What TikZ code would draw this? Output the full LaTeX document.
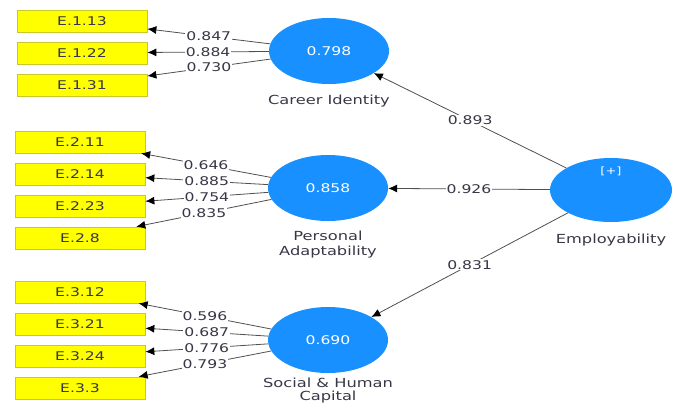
\documentclass[tikz,border=0pt]{standalone}
\usepackage{fontspec}
\setmainfont[FakeStretch=1.3]{DejaVu Sans}
\usetikzlibrary{shapes.geometric,arrows.meta}
\definecolor{latent}{RGB}{24,144,255}
\definecolor{indfill}{RGB}{255,255,0}
\definecolor{indline}{RGB}{200,200,40}
\definecolor{pathline}{RGB}{80,80,80}
\definecolor{txt}{RGB}{55,55,70}
\begin{document}
\begin{tikzpicture}[x=1pt,y=-1pt,
  indicator/.style={rectangle,draw=indline,fill=indfill,line width=0.7pt,
    minimum width=130pt,minimum height=22pt,inner sep=0pt,
    font=\fontsize{12}{13}\selectfont,text=txt},
  construct/.style={ellipse,fill=latent,minimum width=120pt,minimum height=66pt,
    inner sep=0pt,text=white,font=\fontsize{12}{13}\selectfont},
  cname/.style={font=\fontsize{12.5}{15}\selectfont,text=txt,align=center,inner sep=0pt},
  conn/.style={draw=pathline,line width=0.8pt,
    -{Latex[length=9pt,width=8pt,color=black]}},
  coef/.style={fill=white,inner sep=1pt,text=txt,font=\fontsize{12}{13}\selectfont}]
\useasboundingbox (0,0) rectangle (683,407);

% latent variables
\node[construct] (ci) at (329,51) {0.798};
\node[construct] (pa) at (328,188) {0.858};
\node[construct] (sh) at (328,340) {0.690};
\node[construct,minimum width=122pt,minimum height=64pt] (emp) at (611,190) {};
\node[text=white,font=\fontsize{10}{11}\selectfont] (plus) at (611,171) {[+]};

\node[cname] (ciname) at (329,101) {Career Identity};
\node[cname] (paname) at (328,245) {Personal\\Adaptability};
\node[cname] (empname) at (611,240) {Employability};
\node[cname,font=\fontsize{12.5}{13}\selectfont] (shname) at (328,391) {Social \& Human\\Capital};

% indicators
\node[indicator] (e113) at (82,21) {E.1.13};
\node[indicator] (e122) at (82,53) {E.1.22};
\node[indicator] (e131) at (82,85) {E.1.31};

\node[indicator] (e211) at (80,142) {E.2.11};
\node[indicator] (e214) at (80,174) {E.2.14};
\node[indicator] (e223) at (80,206) {E.2.23};
\node[indicator] (e28)  at (80,238) {E.2.8};

\node[indicator] (e312) at (80,292) {E.3.12};
\node[indicator] (e321) at (80,324) {E.3.21};
\node[indicator] (e324) at (80,356) {E.3.24};
\node[indicator] (e33)  at (80,388) {E.3.3};

% outer loadings
\draw[conn] (ci) -- node[coef] {0.847} (e113);
\draw[conn] (ci) -- node[coef] {0.884} (e122);
\draw[conn] (ci) -- node[coef] {0.730} (e131);

\draw[conn] (pa) -- node[coef] {0.646} (e211);
\draw[conn] (pa) -- node[coef] {0.885} (e214);
\draw[conn] (pa) -- node[coef] {0.754} (e223);
\draw[conn] (pa) -- node[coef] {0.835} (e28);

\draw[conn] (sh) -- node[coef] {0.596} (e312);
\draw[conn] (sh) -- node[coef] {0.687} (e321);
\draw[conn] (sh) -- node[coef] {0.776} (e324);
\draw[conn] (sh) -- node[coef] {0.793} (e33);

% second-order paths
\draw[conn] (emp) -- node[coef] {0.893} (ci);
\draw[conn] (emp) -- node[coef] {0.926} (pa);
\draw[conn] (emp) -- node[coef] {0.831} (sh);
\end{tikzpicture}
\end{document}
